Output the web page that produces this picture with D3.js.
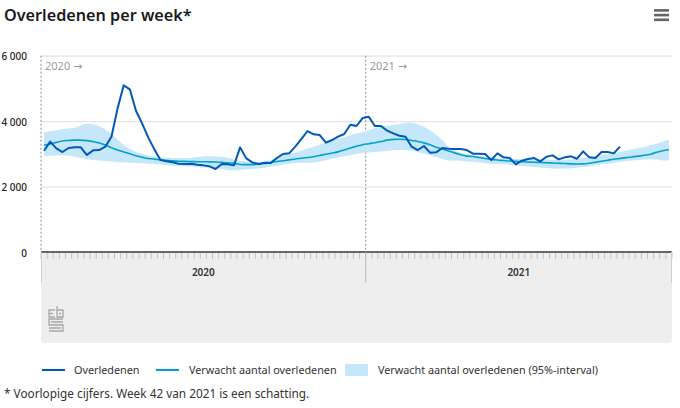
<!DOCTYPE html>
<html>
<head>
<meta charset="utf-8">
<script src="https://cdn.jsdelivr.net/npm/d3@7"></script>
<style>
  html, body { margin: 0; padding: 0; background: #fff; }
  svg { display: block; font-family: "Noto Sans", "Open Sans", sans-serif; }
</style>
</head>
<body>
<svg id="chart" width="680" height="408"></svg>
<script>
// ---------- DATA ----------
const years = ["2020", "2021"];
const weeksPerYear = [53, 50];          // weeks shown on the axis per year
const yTicks = [0, 2000, 4000, 6000];

// Overledenen (observed), 2020 wk1 .. 2021 wk42
const observed = [
  3096, 3372, 3168, 3056, 3178, 3199, 3199, 2964, 3107, 3117,
  3219, 3524, 4390, 5094, 4972, 4318, 3932, 3504, 3137, 2810,
  2771, 2740, 2700, 2689, 2700, 2669, 2648, 2618, 2536, 2689,
  2679, 2648, 3198, 2862, 2740, 2689, 2730, 2720, 2873, 2995,
  3015, 3219, 3453, 3698, 3596, 3576, 3341, 3423, 3525, 3606,
  3891, 3851, 4095,
  4136, 3851, 3851, 3708, 3626, 3555, 3525, 3219, 3117, 3239,
  3036, 3046, 3178, 3158, 3148, 3148, 3117, 3005, 3005, 2995,
  2812, 3015, 2893, 2873, 2679, 2791, 2842, 2873, 2771, 2913,
  2954, 2832, 2893, 2924, 2852, 3076, 2893, 2873, 3056, 3056,
  3015, 3219
];

// Verwacht aantal overledenen (expected), 2020 wk1 .. 2021 wk50
const expected = [
  3265, 3300, 3350, 3395, 3410, 3420, 3418, 3405, 3375, 3330,
  3270, 3190, 3120, 3060, 3000, 2945, 2895, 2860, 2840, 2815,
  2800, 2785, 2775, 2770, 2765, 2760, 2760, 2755, 2750, 2740,
  2725, 2715, 2675, 2670, 2670, 2685, 2705, 2735, 2765, 2790,
  2815, 2845, 2865, 2890, 2913, 2950, 2990, 3025, 3060, 3120,
  3180, 3230, 3280,
  3310, 3340, 3375, 3420, 3443, 3445, 3440, 3410, 3380, 3335,
  3280, 3205, 3150, 3090, 3030, 2975, 2930, 2920, 2890, 2860,
  2830, 2810, 2795, 2780, 2770, 2760, 2750, 2745, 2735, 2730,
  2720, 2712, 2705, 2695, 2690, 2695, 2715, 2745, 2775, 2805,
  2835, 2860, 2885, 2905, 2930, 2955, 2990, 3050, 3095, 3135
];

// 95%-interval upper / lower bounds
const upper = [
  3650, 3690, 3720, 3750, 3775, 3800, 3870, 3920, 3900, 3840,
  3740, 3600, 3440, 3280, 3150, 3060, 3000, 2950, 2910, 2885,
  2875, 2870, 2870, 2870, 2880, 2900, 2920, 2930, 2920, 2900,
  2880, 2830, 2790, 2770, 2750, 2740, 2760, 2820, 2890, 2960,
  3000, 3040, 3100, 3160, 3220, 3280, 3340, 3400, 3460, 3510,
  3570, 3620, 3670,
  3720, 3780, 3830, 3860, 3880, 3910, 3940, 3950, 3900, 3830,
  3720, 3580, 3420, 3230, 3100, 3030, 2990, 2960, 2935, 2900,
  2880, 2865, 2855, 2850, 2845, 2840, 2835, 2832, 2830, 2825,
  2815, 2812, 2820, 2830, 2850, 2875, 2900, 2925, 2955, 2990,
  3020, 3060, 3100, 3140, 3175, 3210, 3260, 3310, 3380, 3430
];
const lower = [
  2920, 2940, 2950, 2955, 2950, 2910, 2870, 2840, 2815, 2795,
  2780, 2765, 2750, 2740, 2730, 2720, 2710, 2700, 2690, 2675,
  2655, 2640, 2630, 2620, 2610, 2595, 2580, 2565, 2550, 2535,
  2510, 2500, 2510, 2525, 2540, 2555, 2575, 2610, 2635, 2670,
  2700, 2712, 2720, 2728, 2735, 2770, 2810, 2850, 2890, 2925,
  2960, 2995, 3030,
  3045, 3060, 3075, 3095, 3110, 3118, 3118, 3100, 3050, 3010,
  2960, 2900, 2840, 2800, 2800, 2790, 2770, 2755, 2735, 2715,
  2700, 2690, 2680, 2665, 2645, 2630, 2615, 2600, 2585, 2570,
  2555, 2545, 2550, 2555, 2575, 2595, 2615, 2650, 2680, 2700,
  2725, 2755, 2785, 2800, 2815, 2825, 2830, 2830, 2800, 2795
];

const title = "Overledenen per week*";
const legendLabels = ["Overledenen", "Verwacht aantal overledenen", "Verwacht aantal overledenen (95%-interval)"];
const footnote = "* Voorlopige cijfers. Week 42 van 2021 is een schatting.";

// ---------- LAYOUT ----------
const C = { dark: "#0058b8", light: "#00a1cd", band: "#c6e6fa", grid: "#e4e4e4", text: "#222" };
const pLeft = 41, pRight = 672, pTop = 55.7, pBottom = 252;
const totalWeeks = d3.sum(weeksPerYear);

const svg = d3.select("#chart");
const x = d3.scaleLinear().domain([0, totalWeeks]).range([pLeft, pRight]);
const y = d3.scaleLinear().domain([0, 6000]).range([pBottom, pTop]);
const xc = i => x(i + 0.5);

const loc = d3.formatLocale({ decimal: ",", thousands: "\u00a0", grouping: [3], currency: ["", ""] });
const fmt = loc.format(",");

// Title
svg.append("text").attr("x", 4).attr("y", 21)
  .attr("font-size", 16.2).attr("font-weight", 600).attr("fill", "#1a1a1a")
  .text(title);

// Menu icon
[10.3, 15, 19.7].forEach(yy => {
  svg.append("rect").attr("x", 654).attr("y", yy - 1.2).attr("width", 15).attr("height", 2.6)
    .attr("fill", "#666");
});

// Lower gray panel (axis band + logo area)
svg.append("path")
  .attr("d", `M${pLeft},${pBottom} H${pRight} V${343 - 4} Q${pRight},343 ${pRight - 4},343 H${pLeft + 4} Q${pLeft},343 ${pLeft},${339} Z`)
  .attr("fill", "#eeeeee");

// Gridlines
const yAxis = d3.axisLeft(y).tickValues(yTicks).tickSize(-(pRight - pLeft)).tickFormat(fmt);
const gy = svg.append("g").attr("transform", `translate(${pLeft},0)`).call(yAxis);
gy.select(".domain").remove();
gy.selectAll(".tick line").attr("stroke", C.grid).attr("stroke-width", 1.2)
  .filter(d => d === 0).remove();
gy.selectAll(".tick text").attr("x", -14).attr("dy", "0.4em")
  .attr("font-size", 10).attr("fill", C.text).attr("font-weight", 500)
  .attr("font-family", "'Noto Sans', sans-serif");

// Year boundaries
const yearStarts = [0, weeksPerYear[0]];
yearStarts.forEach((s, k) => {
  svg.append("line").attr("x1", x(s)).attr("x2", x(s)).attr("y1", pTop).attr("y2", pBottom)
    .attr("stroke", "#8a8a8a").attr("stroke-width", 1).attr("stroke-dasharray", "2,2");
  const t = svg.append("text").attr("x", x(s) + 4).attr("y", pTop + 14)
    .attr("font-size", 11).attr("fill", "#9a9a9a");
  t.append("tspan").text(years[k] + " ");
  t.append("tspan").attr("font-family", "'DejaVu Sans', sans-serif").attr("font-size", 11).text("\u2192");
});

// Band
const area = d3.area().x((d, i) => xc(i)).y0((d, i) => y(lower[i])).y1(d => y(d)).curve(d3.curveMonotoneX);
svg.append("path").datum(upper).attr("d", area).attr("fill", C.band);

// Expected line
svg.append("path").datum(expected)
  .attr("d", d3.line().x((d, i) => xc(i)).y(d => y(d)).curve(d3.curveMonotoneX))
  .attr("fill", "none").attr("stroke", C.light).attr("stroke-width", 1.6);

// Observed line
svg.append("path").datum(observed).attr("d", d3.line().x((d, i) => xc(i)).y(d => y(d)))
  .attr("fill", "none").attr("stroke", C.dark).attr("stroke-width", 2).attr("stroke-linejoin", "round");

// Week ticks
const weekTicks = d3.range(0, totalWeeks + 1);
svg.append("g").selectAll("line").data(weekTicks).join("line")
  .attr("x1", d => x(d)).attr("x2", d => x(d)).attr("y1", pBottom).attr("y2", pBottom + 7)
  .attr("stroke", "#c4c4c4").attr("stroke-width", 1);

// Axis base line
svg.append("line").attr("x1", pLeft).attr("x2", pRight).attr("y1", pBottom).attr("y2", pBottom)
  .attr("stroke", "#666").attr("stroke-width", 2);

// Year separators + labels in axis band
svg.append("line").attr("x1", pLeft + 0.5).attr("x2", pLeft + 0.5).attr("y1", pBottom).attr("y2", 283)
  .attr("stroke", "#d0d0d0");
svg.append("line").attr("x1", x(weeksPerYear[0])).attr("x2", x(weeksPerYear[0])).attr("y1", pBottom).attr("y2", 283)
  .attr("stroke", "#bdbdbd");
svg.append("line").attr("x1", pRight - 0.5).attr("x2", pRight - 0.5).attr("y1", pBottom).attr("y2", 283)
  .attr("stroke", "#d0d0d0");
years.forEach((yr, k) => {
  const s = yearStarts[k], e = s + weeksPerYear[k];
  svg.append("text").attr("x", (x(s) + x(e)) / 2).attr("y", 275.5).attr("text-anchor", "middle")
    .attr("font-size", 10).attr("font-weight", 600).attr("fill", "#333").text(yr);
});

// CBS logo (simplified)
const logo = svg.append("g").attr("transform", "translate(48,306)").attr("fill", "none")
  .attr("stroke", "#a8a8a8").attr("stroke-width", 1.3);
logo.append("path").attr("d", "M7,4 H1 V11 H7 M1,7.5 H5");
logo.append("path").attr("d", "M9,0 V11 H15 V4 H9 M11,7.5 H13");
logo.append("path").attr("d", "M15,13 H1 V19 H15 V25 H1 M3,16 H15 M1,22 H13");

// Legend
const lg = svg.append("g").attr("font-size", 10.8).attr("fill", "#333");
lg.append("line").attr("x1", 42).attr("x2", 65).attr("y1", 370).attr("y2", 370).attr("stroke", C.dark).attr("stroke-width", 2);
lg.append("text").attr("x", 74).attr("y", 374).text(legendLabels[0]);
lg.append("line").attr("x1", 156).attr("x2", 179).attr("y1", 370).attr("y2", 370).attr("stroke", C.light).attr("stroke-width", 2);
lg.append("text").attr("x", 189).attr("y", 374).text(legendLabels[1]);
lg.append("rect").attr("x", 345).attr("y", 364).attr("width", 23).attr("height", 12).attr("fill", C.band);
lg.append("text").attr("x", 378).attr("y", 374).text(legendLabels[2]);

// Footnote
svg.append("text").attr("x", 4).attr("y", 398).attr("font-size", 11.8).attr("fill", "#333").text(footnote);
</script>
</body>
</html>
